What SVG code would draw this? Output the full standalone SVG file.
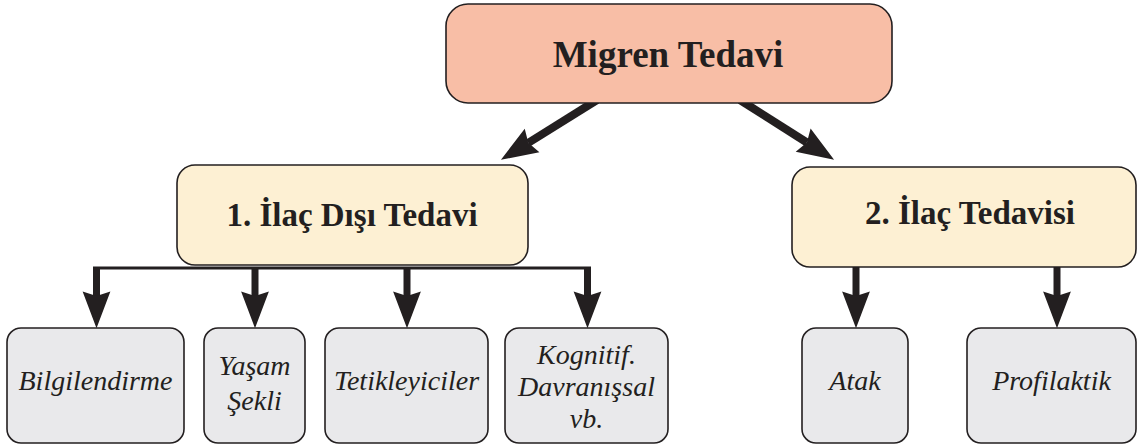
<svg xmlns="http://www.w3.org/2000/svg" width="1138" height="448" viewBox="0 0 1138 448">
  <defs>
    <!-- notched arrowhead; reference point sits at the notch, tip 29px ahead -->
    <marker id="head" markerUnits="userSpaceOnUse" markerWidth="40" markerHeight="30" viewBox="-5 -13 36 26" refX="0" refY="0" orient="auto" overflow="visible">
      <path d="M-4,-12.5 L29,0 L-4,12.5 L0,0 Z" fill="#231f20"/>
    </marker>
  </defs>

  <g id="connectors" stroke="#231f20" fill="none">
    <!-- root to second level -->
    <line x1="597" y1="100" x2="528.3" y2="142.8" stroke-width="8" marker-end="url(#head)"/>
    <line x1="740" y1="100" x2="806.9" y2="142.5" stroke-width="8" marker-end="url(#head)"/>
    <!-- bus under the first branch -->
    <line x1="93" y1="268" x2="591" y2="268" stroke-width="3"/>
    <line x1="96.5" y1="267" x2="96.5" y2="296" stroke-width="7" marker-end="url(#head)"/>
    <line x1="255" y1="267" x2="255" y2="296" stroke-width="7" marker-end="url(#head)"/>
    <line x1="407" y1="267" x2="407" y2="296" stroke-width="7" marker-end="url(#head)"/>
    <line x1="587.5" y1="267" x2="587.5" y2="296" stroke-width="7" marker-end="url(#head)"/>
    <!-- second branch -->
    <line x1="856" y1="264" x2="856" y2="296" stroke-width="7" marker-end="url(#head)"/>
    <line x1="1057" y1="264" x2="1057" y2="296" stroke-width="7" marker-end="url(#head)"/>
  </g>

  <g id="node-root">
    <rect x="446" y="4" width="446" height="99" rx="22" fill="#f8bea6" stroke="#231f20" stroke-width="1.6"/>
    <text x="668" y="67" font-family="Liberation Serif" font-weight="bold" font-size="37" fill="#231f20" text-anchor="middle">Migren Tedavi</text>
  </g>

  <g id="node-ilac-disi">
    <rect x="177" y="165" width="351" height="100" rx="18" fill="#fdf0d3" stroke="#231f20" stroke-width="1.6"/>
    <text x="352" y="226" font-family="Liberation Serif" font-weight="bold" font-size="33" fill="#231f20" text-anchor="middle">1. İlaç Dışı Tedavi</text>
  </g>

  <g id="node-ilac">
    <rect x="792" y="167" width="344" height="100" rx="18" fill="#fdf0d3" stroke="#231f20" stroke-width="1.6"/>
    <text x="970" y="224" font-family="Liberation Serif" font-weight="bold" font-size="33" fill="#231f20" text-anchor="middle">2. İlaç Tedavisi</text>
  </g>

  <g id="node-bilgilendirme">
    <rect x="7" y="328" width="177" height="115" rx="14" fill="#e9e9eb" stroke="#231f20" stroke-width="1.6"/>
    <text x="95.5" y="390" font-family="Liberation Serif" font-style="italic" font-size="28" fill="#231f20" text-anchor="middle">Bilgilendirme</text>
  </g>

  <g id="node-yasam">
    <rect x="204" y="328" width="101" height="115" rx="14" fill="#e9e9eb" stroke="#231f20" stroke-width="1.6"/>
    <text x="254.5" y="375" font-family="Liberation Serif" font-style="italic" font-size="28" fill="#231f20" text-anchor="middle">Yaşam</text>
    <text x="254.5" y="410" font-family="Liberation Serif" font-style="italic" font-size="28" fill="#231f20" text-anchor="middle">Şekli</text>
  </g>

  <g id="node-tetikleyiciler">
    <rect x="325" y="328" width="163" height="115" rx="14" fill="#e9e9eb" stroke="#231f20" stroke-width="1.6"/>
    <text x="406.5" y="390" font-family="Liberation Serif" font-style="italic" font-size="28" fill="#231f20" text-anchor="middle">Tetikleyiciler</text>
  </g>

  <g id="node-kognitif">
    <rect x="505" y="328" width="163" height="115" rx="14" fill="#e9e9eb" stroke="#231f20" stroke-width="1.6"/>
    <text x="586.5" y="364" font-family="Liberation Serif" font-style="italic" font-size="28" fill="#231f20" text-anchor="middle">Kognitif.</text>
    <text x="586.5" y="396" font-family="Liberation Serif" font-style="italic" font-size="28" fill="#231f20" text-anchor="middle">Davranışsal</text>
    <text x="586.5" y="428" font-family="Liberation Serif" font-style="italic" font-size="28" fill="#231f20" text-anchor="middle">vb.</text>
  </g>

  <g id="node-atak">
    <rect x="802" y="328" width="106" height="115" rx="14" fill="#e9e9eb" stroke="#231f20" stroke-width="1.6"/>
    <text x="855" y="390" font-family="Liberation Serif" font-style="italic" font-size="28" fill="#231f20" text-anchor="middle">Atak</text>
  </g>

  <g id="node-profilaktik">
    <rect x="967" y="328" width="169" height="115" rx="14" fill="#e9e9eb" stroke="#231f20" stroke-width="1.6"/>
    <text x="1051.5" y="390" font-family="Liberation Serif" font-style="italic" font-size="28" fill="#231f20" text-anchor="middle">Profilaktik</text>
  </g>
</svg>
